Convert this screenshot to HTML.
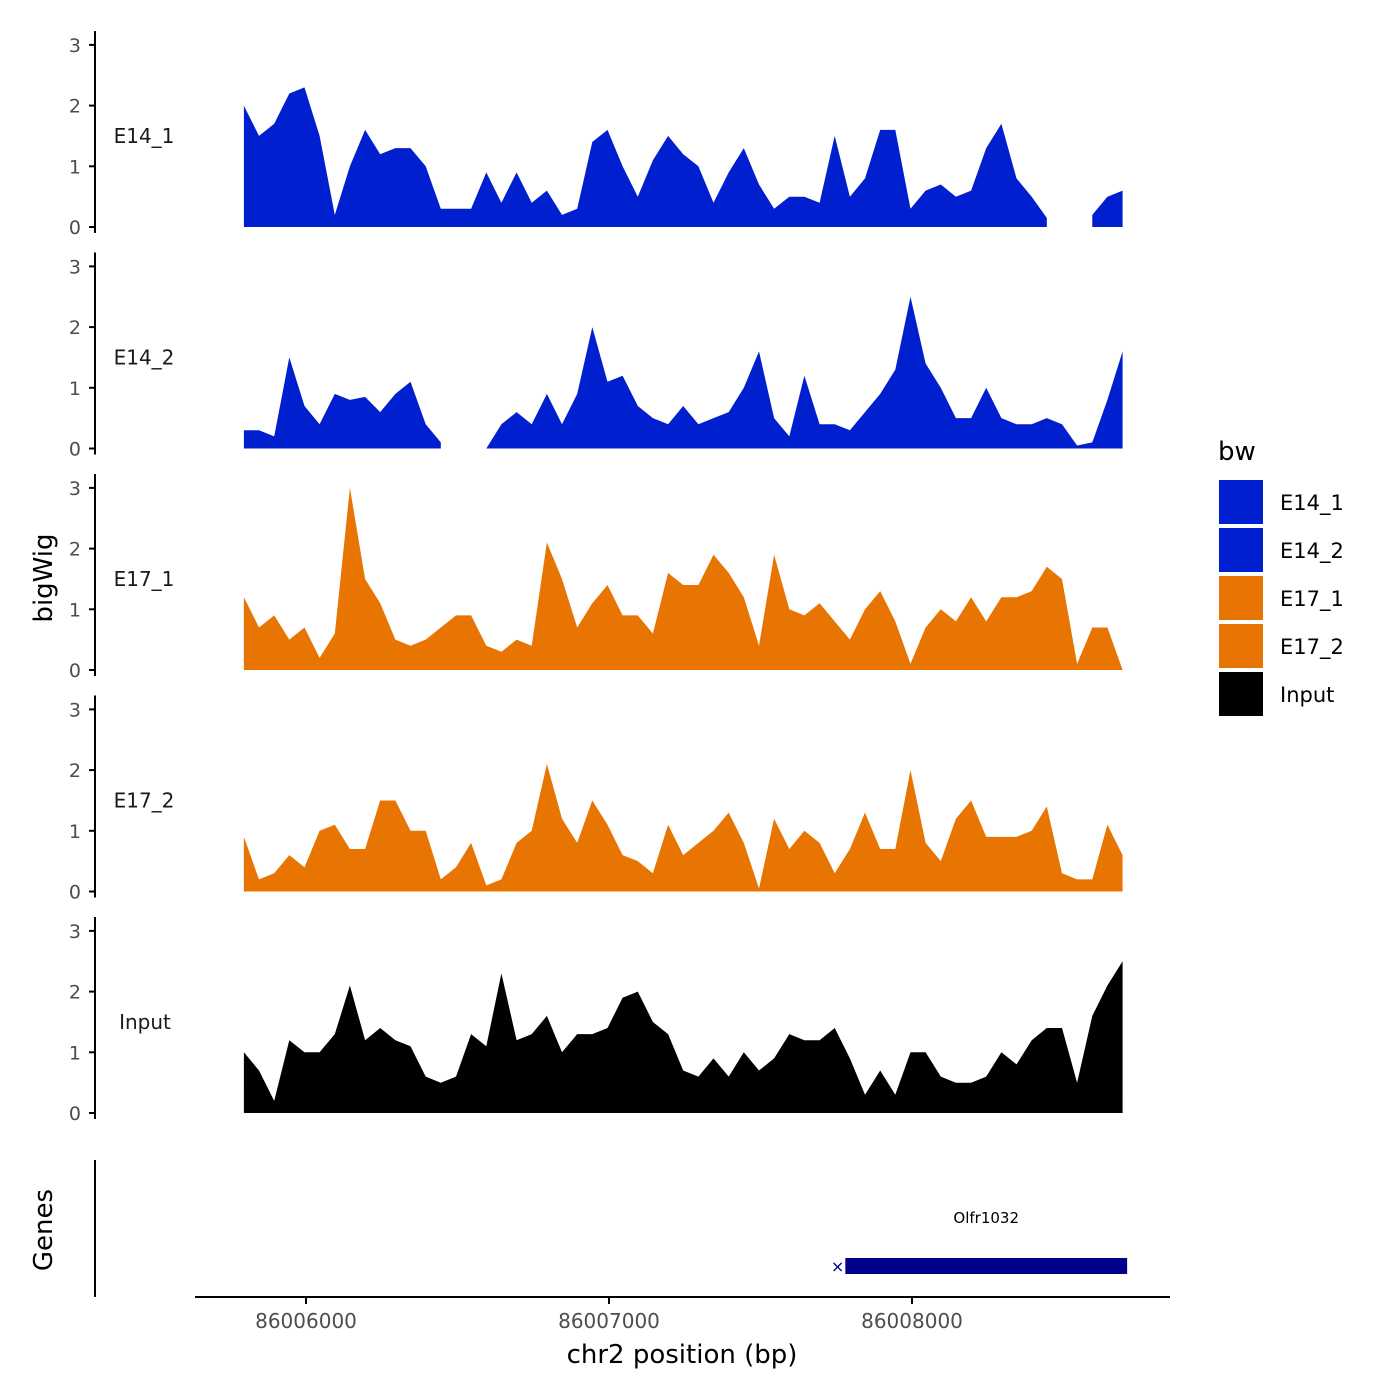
<!DOCTYPE html>
<html><head><meta charset="utf-8"><style>
body{margin:0;background:#fff}
svg{display:block;font-family:"DejaVu Sans","Liberation Sans",sans-serif}
</style></head><body>
<svg id="chart" width="1400" height="1400" viewBox="0 0 1400 1400">
<rect width="1400" height="1400" fill="#fff"/>
<g id="tracks"></g>
<text x="52" y="578" transform="rotate(-90 52 578)" text-anchor="middle" font-size="26" fill="#000">bigWig</text>
<text x="52" y="1230" transform="rotate(-90 52 1230)" text-anchor="middle" font-size="26" fill="#000">Genes</text>
<line x1="95" y1="1160" x2="95" y2="1297" stroke="#000" stroke-width="2"/>
<line x1="195" y1="1297" x2="1170" y2="1297" stroke="#000" stroke-width="2"/>
<g id="xaxis"></g>
<text x="682" y="1363" text-anchor="middle" font-size="26" fill="#000">chr2 position (bp)</text>
<g id="gene"></g>
<g>
<text x="1218" y="460" font-size="26" fill="#000">bw</text>
<g id="legend"></g>
</g>
</svg>
<script>
const positions0 = 86005795, stepBp = 50;
const tracks = ["E14_1","E14_2","E17_1","E17_2","Input"];
const colors = ["#0020CF","#0020CF","#E87502","#E87502","#000000"];
const yTicks = [0,1,2,3];
const xTicks = [86006000,86007000,86008000];
const E14_1 = [2.0,1.5,1.7,2.2,2.3,1.5,0.2,1.0,1.6,1.2,1.3,1.3,1.0,0.3,0.3,0.3,0.9,0.4,0.9,0.4,0.6,0.2,0.3,1.4,1.6,1.0,0.5,1.1,1.5,1.2,1.0,0.4,0.9,1.3,0.7,0.3,0.5,0.5,0.4,1.5,0.5,0.8,1.6,1.6,0.3,0.6,0.7,0.5,0.6,1.3,1.7,0.8,0.5,0.15,null,null,0.2,0.5,0.6];
const E14_2 = [0.3,0.3,0.2,1.5,0.7,0.4,0.9,0.8,0.85,0.6,0.9,1.1,0.4,0.1,null,null,0.0,0.4,0.6,0.4,0.9,0.4,0.9,2.0,1.1,1.2,0.7,0.5,0.4,0.7,0.4,0.5,0.6,1.0,1.6,0.5,0.2,1.2,0.4,0.4,0.3,0.6,0.9,1.3,2.5,1.4,1.0,0.5,0.5,1.0,0.5,0.4,0.4,0.5,0.4,0.05,0.1,0.8,1.6];
const E17_1 = [1.2,0.7,0.9,0.5,0.7,0.2,0.6,3.0,1.5,1.1,0.5,0.4,0.5,0.7,0.9,0.9,0.4,0.3,0.5,0.4,2.1,1.5,0.7,1.1,1.4,0.9,0.9,0.6,1.6,1.4,1.4,1.9,1.6,1.2,0.4,1.9,1.0,0.9,1.1,0.8,0.5,1.0,1.3,0.8,0.1,0.7,1.0,0.8,1.2,0.8,1.2,1.2,1.3,1.7,1.5,0.1,0.7,0.7,0.0];
const E17_2 = [0.9,0.2,0.3,0.6,0.4,1.0,1.1,0.7,0.7,1.5,1.5,1.0,1.0,0.2,0.4,0.8,0.1,0.2,0.8,1.0,2.1,1.2,0.8,1.5,1.1,0.6,0.5,0.3,1.1,0.6,0.8,1.0,1.3,0.8,0.05,1.2,0.7,1.0,0.8,0.3,0.7,1.3,0.7,0.7,2.0,0.8,0.5,1.2,1.5,0.9,0.9,0.9,1.0,1.4,0.3,0.2,0.2,1.1,0.6];
const Input = [1.0,0.7,0.2,1.2,1.0,1.0,1.3,2.1,1.2,1.4,1.2,1.1,0.6,0.5,0.6,1.3,1.1,2.3,1.2,1.3,1.6,1.0,1.3,1.3,1.4,1.9,2.0,1.5,1.3,0.7,0.6,0.9,0.6,1.0,0.7,0.9,1.3,1.2,1.2,1.4,0.9,0.3,0.7,0.3,1.0,1.0,0.6,0.5,0.5,0.6,1.0,0.8,1.2,1.4,1.4,0.5,1.6,2.1,2.5];
const series = [E14_1,E14_2,E17_1,E17_2,Input];
const geneStart = 86007780, geneEnd = 86008710, geneName = "Olfr1032";

const NS="http://www.w3.org/2000/svg";
function xS(bp){return 306+(bp-86006000)*0.303;}
function panelY0(k){return 227+k*221.5;}
function yS(k,v){return panelY0(k)-v*60.7;}
function mk(tag,attrs,parent){const e=document.createElementNS(NS,tag);for(const a in attrs)e.setAttribute(a,attrs[a]);parent.appendChild(e);return e;}
const G=document.getElementById("tracks");
tracks.forEach((name,k)=>{
  const g=mk("g",{},G);
  
  
  const ax=mk("line",{x1:95,x2:95,y1:panelY0(k)-196,y2:panelY0(k)+6,stroke:"#000","stroke-width":2},g);
  
  
  yTicks.forEach(t=>{
    const y=yS(k,t);
    mk("line",{x1:89,x2:95,y1:y,y2:y,stroke:"#000","stroke-width":2},g);
    const tx=mk("text",{x:81,y:y+7,"text-anchor":"end","font-size":19,fill:"#4d4d4d"},g);
    tx.textContent=t;
    
    
  });
  const lb=mk("text",{x:name==="Input"?145:144,y:yS(k,1.5)+7,"text-anchor":"middle","font-size":20,fill:"#1a1a1a"},g);
  lb.textContent=name;
  
  
  const vals=series[k]; let seg=[];
  const segs=[];
  vals.forEach((v,i)=>{
    if(v===null){if(seg.length)segs.push(seg);seg=[];}
    else seg.push([xS(positions0+i*stepBp),v]);
  });
  if(seg.length)segs.push(seg);
  segs.forEach(s=>{
    let d="M"+s[0][0]+","+panelY0(k);
    s.forEach(p=>{d+=" L"+p[0].toFixed(1)+","+yS(k,p[1]).toFixed(1);});
    d+=" L"+s[s.length-1][0]+","+panelY0(k)+" Z";
    const p=mk("path",{d:d,fill:colors[k]},g);
    
    
  });
});
const XA=document.getElementById("xaxis");
xTicks.forEach(t=>{
  const x=xS(t);
  mk("line",{x1:x,x2:x,y1:1297,y2:1304,stroke:"#000","stroke-width":2},XA);
  const tx=mk("text",{x:x,y:1328,"text-anchor":"middle","font-size":20,fill:"#4d4d4d"},XA);
  tx.textContent=t;
  
  
});
const GE=document.getElementById("gene");
const gb=mk("rect",{x:xS(geneStart),y:1258,width:xS(geneEnd)-xS(geneStart),height:16,fill:"#00008B"},GE);


mk("text",{x:xS(geneStart)-1,y:1272,"text-anchor":"end","font-size":16,fill:"#00008B"},GE).textContent="×";
const gl=mk("text",{x:(xS(geneStart)+xS(geneEnd))/2,y:1223,"text-anchor":"middle","font-size":15,fill:"#000"},GE);
gl.textContent=geneName;


const L=document.getElementById("legend");
tracks.forEach((name,k)=>{
  const y=480+k*48;
  const r=mk("rect",{x:1219,y:y,width:44,height:44,fill:colors[k]},L);
  
  
  const t=mk("text",{x:1280,y:y+30,"font-size":21,fill:"#000"},L);
  t.textContent=name;
  
  
});
</script>
</body></html>
